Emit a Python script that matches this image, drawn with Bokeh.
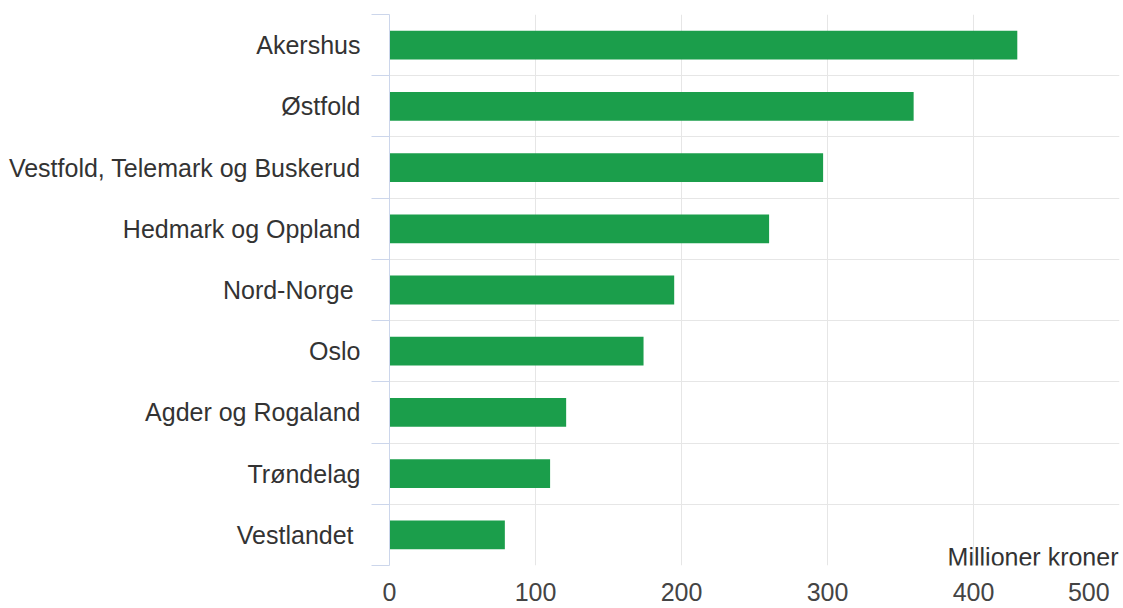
from bokeh.plotting import figure
from bokeh.models import FixedTicker, Range1d, ColumnDataSource, Label
from bokeh.embed import file_html
from bokeh.resources import INLINE

categories = ["Akershus", "Østfold", "Vestfold, Telemark og Buskerud",
              "Hedmark og Oppland", "Nord-Norge\u00a0", "Oslo",
              "Agder og Rogaland", "Trøndelag", "Vestlandet\u00a0"]
values = [430, 359, 297, 260, 195, 174, 121, 110, 79]
x_ticks = [0, 100, 200, 300, 400, 500]
axis_title = "Millioner kroner"

FONT = "Liberation Sans"
n = len(categories)
ypos = [n - i - 0.5 for i in range(n)]
src = ColumnDataSource(dict(y=ypos, v=values, c=categories))

p = figure(width=1123, height=608, output_backend="svg", toolbar_location=None,
           x_range=Range1d(0, x_ticks[-1]), y_range=Range1d(0, n),
           min_border_left=389, min_border_right=4, min_border_top=14,
           min_border_bottom=42)
p.outline_line_color = None
p.background_fill_color = "white"

p.hbar(y="y", right="v", left=0, height=0.47, source=src,
       fill_color="#1b9e4b", line_color=None)

ya = p.yaxis[0]
ya.ticker = FixedTicker(ticks=ypos, minor_ticks=list(range(n + 1)))
ya.major_label_overrides = {y: c for y, c in zip(ypos, categories)}
ya.major_tick_line_color = None
ya.major_tick_out = 0
ya.major_tick_in = 0
ya.minor_tick_line_color = "#ccd6eb"
ya.minor_tick_out = 18
ya.minor_tick_in = 0
ya.axis_line_color = "#ccd6eb"
ya.major_label_standoff = 11
ya.major_label_text_font = FONT
ya.major_label_text_font_size = "25px"
ya.major_label_text_color = "#333333"

xa = p.xaxis[0]
xa.ticker = FixedTicker(ticks=x_ticks)
# shift the last label left so it stays on the canvas (trailing no-break spaces)
xa.major_label_overrides = {x_ticks[-1]: str(x_ticks[-1]) + "\u00a0" * 2}
xa.axis_line_color = None
xa.major_tick_line_color = None
xa.minor_tick_line_color = None
xa.major_tick_out = 0
xa.major_tick_in = 0
xa.major_label_standoff = 12
xa.major_label_text_font = FONT
xa.major_label_text_font_size = "25px"
xa.major_label_text_color = "#444444"

p.ygrid.ticker = FixedTicker(ticks=list(range(n + 1)))
p.ygrid.grid_line_color = "#e6e6e6"
p.xgrid.ticker = FixedTicker(ticks=x_ticks)
p.xgrid.grid_line_color = "#e6e6e6"

# axis title at the right end, sitting on the bottom line
p.add_layout(Label(x=x_ticks[-1], y=0, text=axis_title, text_align="right",
                   text_baseline="alphabetic", x_offset=-1, y_offset=9,
                   text_font=FONT, text_font_size="25px", text_color="#333333"))

open("out.html", "w").write(file_html(p, INLINE))
